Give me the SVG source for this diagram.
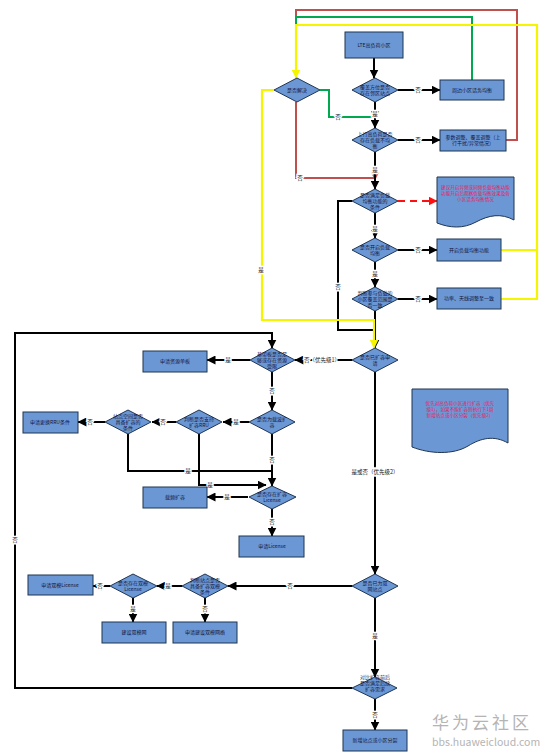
<svg xmlns="http://www.w3.org/2000/svg" width="555" height="755" viewBox="0 0 555 755">
<style>
.bx{fill:#6b98d4;stroke:#1f3553;stroke-width:1}
.dm{fill:#6b98d4;stroke:#1f3553;stroke-width:1}
.t{font-family:"Noto Sans CJK SC","Noto Sans",sans-serif;font-size:5px;fill:#14143c;text-anchor:middle}
.tr{font-family:"Noto Sans CJK SC","Noto Sans",sans-serif;font-size:4.6px;fill:#e8195a;text-anchor:middle}
.lb{font-family:"Noto Sans CJK SC","Noto Sans",sans-serif;font-size:5.5px;fill:#222;text-anchor:middle;paint-order:stroke;stroke:#fff;stroke-width:2.5px}
.k{fill:none;stroke:#000;stroke-width:2}
.r{fill:none;stroke:#c0504d;stroke-width:2}
.g{fill:none;stroke:#00a850;stroke-width:2}
.y{fill:none;stroke:#f5f500;stroke-width:2.2}
.wm{font-family:"Noto Sans CJK SC","Noto Sans",sans-serif;fill:#b4b4b4}
</style>
<defs>
<marker id="ak" markerUnits="userSpaceOnUse" markerWidth="9" markerHeight="9" refX="8.5" refY="4.5" orient="auto"><path d="M0,0 L9,4.5 L0,9 Z" fill="#000"/></marker>
<marker id="ar" markerUnits="userSpaceOnUse" markerWidth="9" markerHeight="9" refX="8.5" refY="4.5" orient="auto"><path d="M0,0 L9,4.5 L0,9 Z" fill="#c0504d"/></marker>
<marker id="ag" markerUnits="userSpaceOnUse" markerWidth="9" markerHeight="9" refX="8.5" refY="4.5" orient="auto"><path d="M0,0 L9,4.5 L0,9 Z" fill="#00a850"/></marker>
<marker id="ay" markerUnits="userSpaceOnUse" markerWidth="9" markerHeight="9" refX="8.5" refY="4.5" orient="auto"><path d="M0,0 L9,4.5 L0,9 Z" fill="#f5f500"/></marker>
<marker id="ard" markerUnits="userSpaceOnUse" markerWidth="9" markerHeight="9" refX="8.5" refY="4.5" orient="auto"><path d="M0,0 L9,4.5 L0,9 Z" fill="#ff1010"/></marker>
</defs>

<g id="connectors">
<path class="r" d="M506,140 H517 V10 H296 V30"/>
<path class="g" d="M472,80 V17 H296 V30"/>
<path class="r" d="M296,102 V178 H375 V180" marker-end="url(#ar)"/>
<path class="g" d="M320,90 H329 V117 H375 V119" marker-end="url(#ag)"/>
<path class="k" d="M374,58 V78" marker-end="url(#ak)"/>
<path class="k" d="M398,90 H440" marker-end="url(#ak)"/>
<path class="k" d="M375,102 V128" marker-end="url(#ak)"/>
<path class="k" d="M398,140 H440" marker-end="url(#ak)"/>
<path class="k" d="M375,152 V189" marker-end="url(#ak)"/>
<path class="k" d="M375,213 V238" marker-end="url(#ak)"/>
<path class="k" d="M352,201 H338 V330 H375"/>
<path class="k" d="M398,250 H437" marker-end="url(#ak)"/>
<path class="k" d="M375,262 V287" marker-end="url(#ak)"/>
<path class="k" d="M398,299 H437" marker-end="url(#ak)"/>
<path class="k" d="M375,311 V348" marker-end="url(#ak)"/>
<path class="k" d="M352,360 H295" marker-end="url(#ak)"/>
<path class="k" d="M250,360 H207" marker-end="url(#ak)"/>
<path class="k" d="M272,372 V410" marker-end="url(#ak)"/>
<path class="k" d="M249,422 H223" marker-end="url(#ak)"/>
<path class="k" d="M176,422 H152" marker-end="url(#ak)"/>
<path class="k" d="M105,422 H78" marker-end="url(#ak)"/>
<path class="k" d="M272,434 V486" marker-end="url(#ak)"/>
<path class="k" d="M128,434 V471 H272"/>
<path class="k" d="M199,434 V485 H266" marker-end="url(#ak)"/>
<path class="k" d="M248,497 H207" marker-end="url(#ak)"/>
<path class="k" d="M272,509 V536" marker-end="url(#ak)"/>
<path class="k" d="M375,372 V574" marker-end="url(#ak)"/>
<path class="k" d="M352,586 H228" marker-end="url(#ak)"/>
<path class="k" d="M182,586 H157" marker-end="url(#ak)"/>
<path class="k" d="M110,586 H93" marker-end="url(#ak)"/>
<path class="k" d="M133,598 V622" marker-end="url(#ak)"/>
<path class="k" d="M205,598 V622" marker-end="url(#ak)"/>
<path class="k" d="M375,598 V677" marker-end="url(#ak)"/>
<path class="k" d="M375,699 V730" marker-end="url(#ak)"/>
<path class="k" d="M352,688 H15 V333 H272 V348" marker-end="url(#ak)"/>
<path d="M398,201 H437" fill="none" stroke="#ff1010" stroke-width="2" stroke-dasharray="7,5" marker-end="url(#ard)"/>
<path class="y" d="M501,250 H537"/>
<path class="y" d="M501,299 H537 V25 H296 V78" marker-end="url(#ay)"/>
<path class="y" d="M274,90 H262 V320 H374 V348" marker-end="url(#ay)"/>
<text class="lb" x="418" y="92">否</text>
<text class="lb" x="375" y="116">是</text>
<text class="lb" x="418" y="142">否</text>
<text class="lb" x="375" y="172">是</text>
<text class="lb" x="338" y="119">否</text>
<text class="lb" x="300" y="180">否</text>
<text class="lb" x="375" y="231">是</text>
<text class="lb" x="338" y="289">否</text>
<text class="lb" x="418" y="252">否</text>
<text class="lb" x="375" y="276">是</text>
<text class="lb" x="418" y="301">否</text>
<text class="lb" x="261" y="272">是</text>
<text class="lb" x="322" y="362">否（优先级1）</text>
<text class="lb" x="228" y="362">是</text>
<text class="lb" x="272" y="393">否</text>
<text class="lb" x="236" y="424">是</text>
<text class="lb" x="163" y="424">否</text>
<text class="lb" x="90" y="424">否</text>
<text class="lb" x="272" y="462">否</text>
<text class="lb" x="188" y="473">是</text>
<text class="lb" x="210" y="487">是</text>
<text class="lb" x="227" y="499">是</text>
<text class="lb" x="272" y="524">否</text>
<text class="lb" x="375" y="474">是或否（优先级2）</text>
<text class="lb" x="290" y="588">否</text>
<text class="lb" x="168" y="588">是</text>
<text class="lb" x="100" y="588">否</text>
<text class="lb" x="133" y="611">是</text>
<text class="lb" x="205" y="611">否</text>
<text class="lb" x="375" y="638">是</text>
<text class="lb" x="375" y="717">否</text>
<text class="lb" x="15" y="542">否</text>
</g>

<g id="n_lte"><rect class="bx" x="345" y="32" width="58" height="26"/><text class="t" x="374" y="47">LTE高负荷小区</text></g>
<g id="d1"><polygon class="dm" points="352,90 375,78 398,90 375,102"/><text class="t" x="375" y="89">覆盖方位是否</text><text class="t" x="375" y="95">存在邻区站点</text></g>
<g id="b_zhoubian"><rect class="bx" x="440" y="80" width="64" height="20"/><text class="t" x="472" y="92">周边小区话务均衡</text></g>
<g id="d_jj"><polygon class="dm" points="274,90 297,78 320,90 297,102"/><text class="t" x="297" y="92">是否解决</text></g>
<g id="d2"><polygon class="dm" points="352,140 375,128 398,140 375,152"/><text class="t" x="375" y="136">上行高负荷是否</text><text class="t" x="375" y="142">存在负载不均</text><text class="t" x="375" y="148">衡</text></g>
<g id="b_canshu"><rect class="bx" x="440" y="130" width="66" height="21"/><text class="t" x="473" y="139">参数调整、覆盖调整（上</text><text class="t" x="473" y="145">行干扰/异常情况）</text></g>
<g id="d3"><polygon class="dm" points="352,201 375,189 398,201 375,213"/><text class="t" x="375" y="197">是否满足负载</text><text class="t" x="375" y="203">均衡功能的</text><text class="t" x="375" y="209">条件</text></g>
<g id="doc1"><path class="bx" d="M437,177 H514 V220 C501,213 489,215 476,222 C463,229 450,228 437,223 Z"/><text class="tr" x="475.5" y="189">建议开启异频或同频负载均衡功能</text><text class="tr" x="475.5" y="195">功能开启后观察负载均衡效果及各</text><text class="tr" x="475.5" y="201">小区话务均衡情况</text></g>
<g id="d4"><polygon class="dm" points="352,250 375,238 398,250 375,262"/><text class="t" x="375" y="249">是否开启负载</text><text class="t" x="375" y="255">均衡</text></g>
<g id="b_kaiqi"><rect class="bx" x="437" y="239" width="64" height="22"/><text class="t" x="469" y="252">开启负载均衡功能</text></g>
<g id="d5"><polygon class="dm" points="352,299 375,287 398,299 375,311"/><text class="t" x="375" y="295">判断参与负载的</text><text class="t" x="375" y="301">小区覆盖范围是</text><text class="t" x="375" y="307">否一致</text></g>
<g id="b_gonglv"><rect class="bx" x="437" y="288" width="64" height="21"/><text class="t" x="469" y="300">功率、天线调整至一致</text></g>
<g id="d6"><polygon class="dm" points="352,360 375,348 398,360 375,372"/><text class="t" x="375" y="359">是否已扩容申</text><text class="t" x="375" y="365">请</text></g>
<g id="d7"><polygon class="dm" points="250,360 272,348 295,360 272,372"/><text class="t" x="272" y="356">基带板是否足</text><text class="t" x="272" y="362">够或存在资源</text><text class="t" x="272" y="368">受限</text></g>
<g id="b_ziyuan"><rect class="bx" x="143" y="351" width="64" height="21"/><text class="t" x="175" y="363">申请资源单板</text></g>
<g id="d8"><polygon class="dm" points="249,422 272,410 295,422 272,434"/><text class="t" x="272" y="421">是否为载波扩</text><text class="t" x="272" y="427">容</text></g>
<g id="d9"><polygon class="dm" points="176,422 199,410 222,422 199,434"/><text class="t" x="199" y="421">判断是否支持</text><text class="t" x="199" y="427">扩容RRU</text></g>
<g id="d10"><polygon class="dm" points="105,422 128,410 151,422 128,434"/><text class="t" x="128" y="418">站点空间是否</text><text class="t" x="128" y="424">具备扩容的</text><text class="t" x="128" y="430">条件</text></g>
<g id="b_genghuan"><rect class="bx" x="23" y="412" width="55" height="21"/><text class="t" x="50" y="424">申请更换RRU条件</text></g>
<g id="d11"><polygon class="dm" points="249,497 272,486 296,497 272,509"/><text class="t" x="272" y="496">是否存在扩容</text><text class="t" x="272" y="502">License</text></g>
<g id="b_zaipin"><rect class="bx" x="143" y="487" width="64" height="21"/><text class="t" x="175" y="499">载频扩容</text></g>
<g id="b_license"><rect class="bx" x="239" y="536" width="65" height="21"/><text class="t" x="272" y="548">申请License</text></g>
<g id="doc2"><path class="bx" d="M412,389 H508 V443 C494,435 481,438 468,446 C453,455 430,454 412,447 Z"/><text class="tr" x="460" y="405">优先对高负荷小区进行扩容（优先</text><text class="tr" x="460" y="411">级1），如果不能扩容则执行下1周</text><text class="tr" x="460" y="417">新增站点或小区分裂（优先级2）</text></g>
<g id="d12"><polygon class="dm" points="352,586 375,574 398,586 375,598"/><text class="t" x="375" y="585">是否已为双</text><text class="t" x="375" y="591">网站点</text></g>
<g id="d13"><polygon class="dm" points="182,586 205,574 228,586 205,598"/><text class="t" x="205" y="582">判断站点是否</text><text class="t" x="205" y="588">具备扩容双模</text><text class="t" x="205" y="594">条件</text></g>
<g id="d14"><polygon class="dm" points="110,586 133,574 157,586 133,598"/><text class="t" x="133" y="585">是否存在双模</text><text class="t" x="133" y="591">License</text></g>
<g id="b_sm_lic"><rect class="bx" x="28" y="575" width="65" height="20"/><text class="t" x="60" y="587">申请双模License</text></g>
<g id="b_jianshe"><rect class="bx" x="102" y="622" width="64" height="21"/><text class="t" x="134" y="634">建设双模网</text></g>
<g id="b_sq_jianshe"><rect class="bx" x="173" y="622" width="64" height="21"/><text class="t" x="205" y="634">申请建设双模网络</text></g>
<g id="d15"><polygon class="dm" points="352,688 375,677 397,688 375,699"/><text class="t" x="375" y="679">对比扩容前后</text><text class="t" x="375" y="685">是否满足后续</text><text class="t" x="375" y="691">扩容需求</text></g>
<g id="b_xinzeng"><rect class="bx" x="343" y="730" width="64" height="21"/><text class="t" x="375" y="742">新增站点或小区分裂</text></g>

<g id="watermark">
<text class="wm" x="432" y="729" font-size="17" letter-spacing="3">华为云社区</text>
<text class="wm" x="432" y="746" font-size="10.5">bbs.huaweicloud.com</text>
</g>
</svg>
